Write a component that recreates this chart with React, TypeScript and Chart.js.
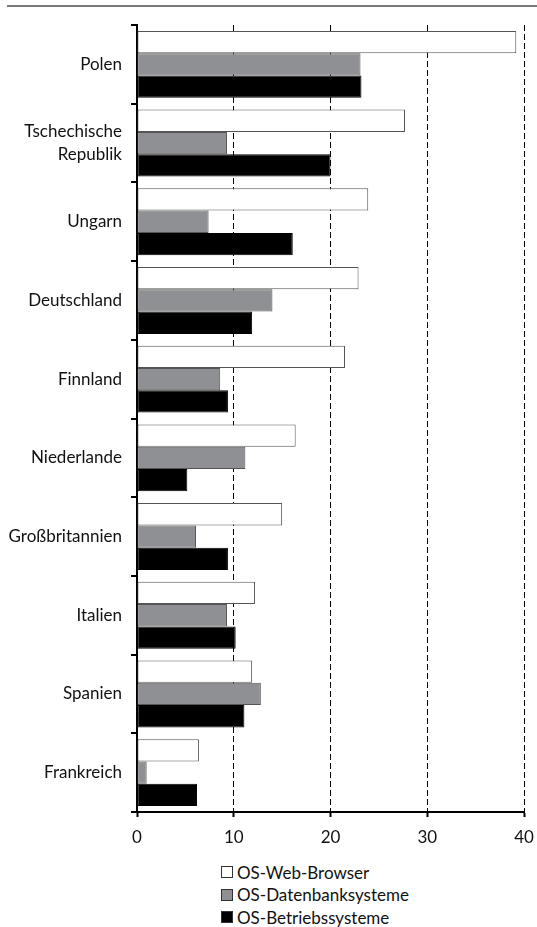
import React, { useEffect, useRef } from "react";
import { Chart, registerables } from "chart.js";

Chart.register(...registerables);

const categories: (string | string[])[] = [
  "Polen",
  ["Tschechische", "Republik"],
  "Ungarn",
  "Deutschland",
  "Finnland",
  "Niederlande",
  "Großbritannien",
  "Italien",
  "Spanien",
  "Frankreich",
];

const webBrowser = [39.2, 27.7, 23.9, 22.9, 21.5, 16.4, 15.0, 12.2, 11.9, 6.4];
const datenbanksysteme = [23.1, 9.3, 7.4, 14.0, 8.6, 11.2, 6.1, 9.3, 12.8, 1.0];
const betriebssysteme = [23.2, 20.0, 16.1, 11.9, 9.4, 5.2, 9.4, 10.2, 11.1, 6.2];

const seriesNames = ["OS-Web-Browser", "OS-Datenbanksysteme", "OS-Betriebssysteme"];
const xTicks = [0, 10, 20, 30, 40];

const FONT = "Lato";
const fills = ["#ffffff", "#8e9093", "#000000"];
const borders = ["#555555", "#555555", "#000000"];

export default function App() {
  const ref = useRef<HTMLCanvasElement | null>(null);

  useEffect(() => {
    document.body.style.margin = "0";
    if (!ref.current) return;
    const chart = new Chart(ref.current, {
      type: "bar",
      data: {
        labels: categories,
        datasets: [webBrowser, datenbanksysteme, betriebssysteme].map((d, i) => ({
          label: seriesNames[i],
          data: d,
          backgroundColor: fills[i],
          borderColor: borders[i],
          borderWidth: 1,
          borderSkipped: false,
          barPercentage: 1.0,
          categoryPercentage: 0.85,
        })),
      },
      options: {
        indexAxis: "y",
        animation: false,
        responsive: false,
        layout: { padding: { top: 25, right: 13, left: 0, bottom: 0 } },
        plugins: { legend: { display: false }, tooltip: { enabled: false } },
        scales: {
          x: {
            min: 0,
            max: 40,
            afterBuildTicks: (scale: any) => {
              scale.ticks = xTicks.map((v) => ({ value: v }));
            },
            afterFit: (scale: any) => {
              scale.height = 36;
              scale.paddingLeft = 0;
              scale.paddingRight = 0;
            },
            ticks: {
              color: "#111",
              font: { family: FONT, size: 17 },
              padding: 10,
            },
            grid: {
              color: (ctx: any) => (ctx.tick && ctx.tick.value === 0 ? "rgba(0,0,0,0)" : "#000"),
              lineWidth: 1,
              tickColor: "#000",
              tickLength: 5,
              tickWidth: 2,
            },
            border: { display: true, color: "#000", width: 2, dash: [6, 3] },
          },
          y: {
            afterFit: (scale: any) => {
              scale.width = 137;
              scale.paddingTop = 0;
              scale.paddingBottom = 0;
            },
            ticks: {
              color: "#111",
              font: { family: FONT, size: 17, lineHeight: 1.35 },
              padding: 9,
            },
            grid: {
              drawOnChartArea: false,
              color: "#000",
              tickLength: 6,
              lineWidth: 2,
            },
            border: { display: true, color: "#000", width: 2 },
          },
        },
      },
    });
    return () => chart.destroy();
  }, []);

  return (
    <div style={{ position: "relative", width: 537, height: 927, background: "#fff", fontFamily: FONT }}>
      <div style={{ position: "absolute", top: 5, left: 7, right: 0, height: 2, background: "#7a7a7a" }} />
      <canvas ref={ref} width={537} height={848} style={{ position: "absolute", top: 0, left: 0 }} />
      <div style={{ position: "absolute", left: 221, top: 861 }}>
        {seriesNames.map((n, i) => (
          <div key={n} style={{ display: "flex", alignItems: "center", height: 22.5, fontSize: 17, color: "#111" }}>
            <span
              style={{
                display: "inline-block",
                width: 10,
                height: 10,
                background: fills[i],
                border: "1px solid #333",
                marginRight: 4,
              }}
            />
            {n}
          </div>
        ))}
      </div>
    </div>
  );
}
